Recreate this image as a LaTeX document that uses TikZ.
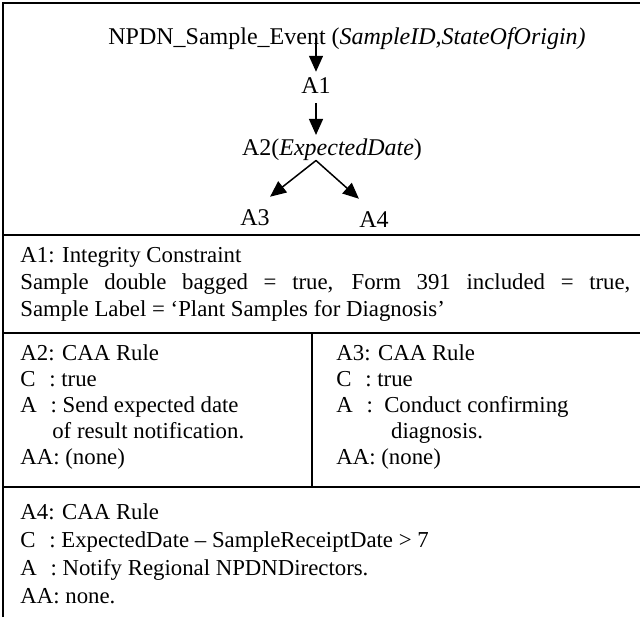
\documentclass[tikz,border=0pt]{standalone}
\usepackage{fontspec}
\setmainfont{Liberation Serif}
\usetikzlibrary{arrows.meta,positioning}

\begin{document}
\begin{tikzpicture}[x=0.5pt,y=-0.5pt,
    every node/.style={inner sep=0pt},
    tree/.style={font=\fontsize{12}{14}\selectfont,anchor=base},
    cell/.style={align=left,anchor=north west},
    rule/.style={line width=1pt},
    flow/.style={-{Triangle[length=8pt,width=7pt]},line width=0.75pt}
]
    \useasboundingbox (0,0) rectangle (640,617);

    % table rules
    \draw[rule] (3,617) -- (3,3) -- (640,3);
    \draw[rule] (3,235) -- (640,235);
    \draw[rule] (3,333) -- (640,333);
    \draw[rule] (3,487) -- (640,487);
    \draw[rule] (312,333) -- (312,487);

    % event tree
    \node[tree,anchor=base west] (event) at (108,44) {NPDN\_Sample\_Event (\textit{SampleID,StateOfOrigin)}};
    \node[tree] (a1) at (316,93) {A1};
    \node[tree] (a2) at (332,155) {A2(\textit{ExpectedDate})};
    \node[tree] (a3) at (255,225) {A3};
    \node[tree] (a4) at (374,227) {A4};

    \draw[flow,shorten >=2.5pt] (a1.north |- event.center) -- (a1.north);
    \draw[flow,shorten <=5pt,shorten >=1.5pt] (a1.south) -- (a1.south |- a2.north);
    \draw[flow] (a2.south -| a1.south) -- ([yshift=6pt]a3.north east);
    \draw[flow] (a2.south -| a1.south) -- ([yshift=6pt]a4.north west);

    % rule cells
    \node[cell,font=\fontsize{11.4}{13.4}\selectfont] (c1) at (20,247) {A1: Integrity Constraint\\
        \makebox[305pt][s]{Sample double bagged = true, Form 391 included = true,}\\
        Sample Label = `Plant Samples for Diagnosis'};
    \node[cell,font=\fontsize{11.4}{13}\selectfont] (c2) at (20,344) {A2: CAA Rule\\
        C\hspace{0.6em}: true\\
        A\hspace{0.6em}: Send expected date\\
        \hspace*{1.4em}of result notification.\\
        AA: (none)};
    \node[cell,font=\fontsize{11.4}{13}\selectfont] (c3) at (336,344) {A3: CAA Rule\\
        C\hspace{0.6em}: true\\
        A\hspace{0.6em}:\hspace{0.5em}Conduct confirming\\
        \hspace*{2.4em}diagnosis.\\
        AA: (none)};
    \node[cell,font=\fontsize{11.4}{14}\selectfont] (c4) at (20,503) {A4: CAA Rule\\
        C\hspace{0.6em}: ExpectedDate -- SampleReceiptDate > 7\\
        A\hspace{0.6em}: Notify Regional NPDNDirectors.\\
        AA: none.};
\end{tikzpicture}
\end{document}
